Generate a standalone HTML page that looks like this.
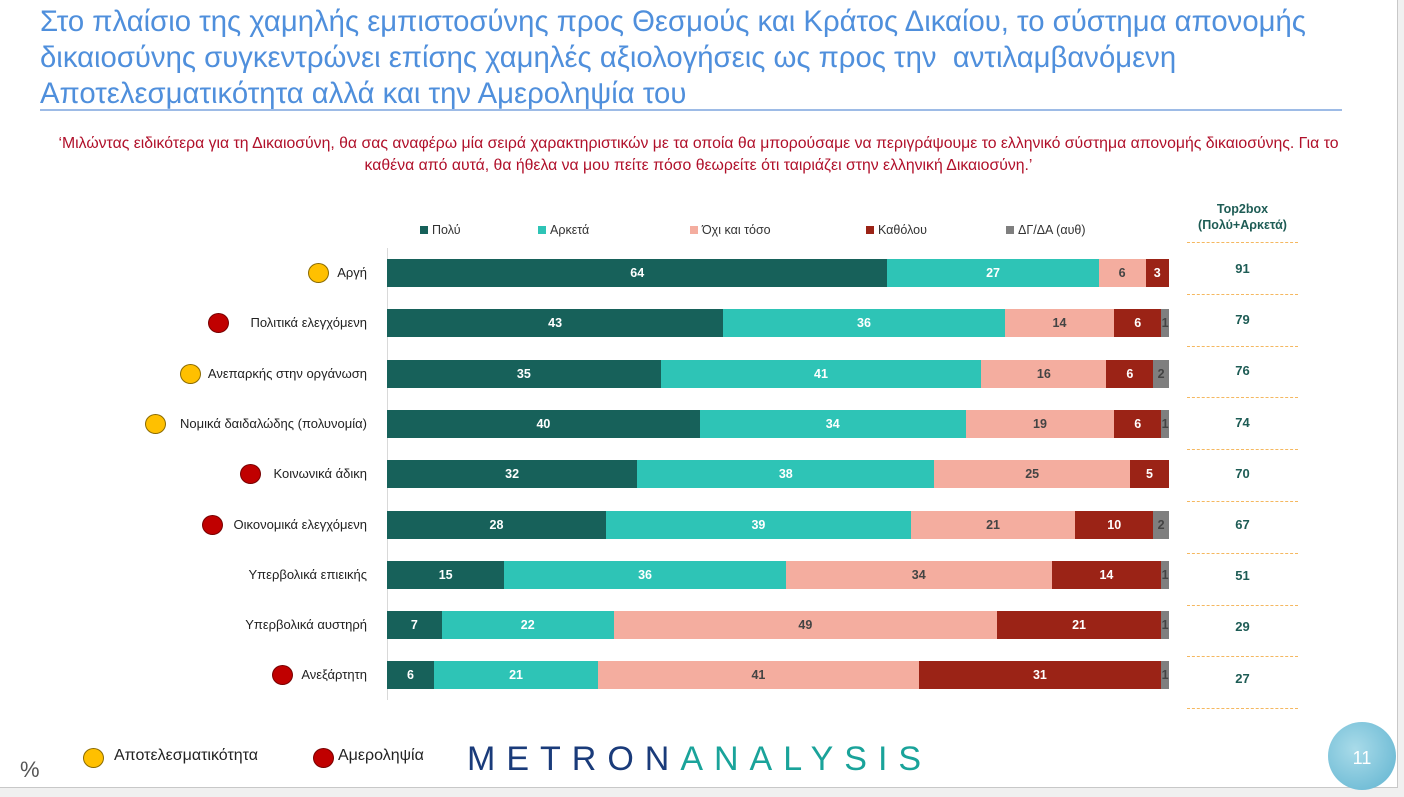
<!DOCTYPE html><html><head><meta charset="utf-8"><style>
body{margin:0;width:1404px;height:797px;background:#f0f0f0;font-family:"Liberation Sans",sans-serif;position:relative;overflow:hidden}
.slide{position:absolute;left:0;top:0;width:1397px;height:787px;background:#fff;border-right:1px solid #c8c8c8;border-bottom:1px solid #c8c8c8}
.t{position:absolute;left:40px;top:4px;font-size:29.3px;line-height:36px;color:#4f8fdc;width:1330px}
.ul{position:absolute;left:40px;top:109px;width:1302px;height:2px;background:#9dbbe6}
.sub{position:absolute;left:0;width:1397px;top:133px;text-align:center;font-size:15.8px;line-height:22px;color:#b0102a}
.a{position:absolute}
.bar{position:absolute;height:28px;display:flex}
.bar div{height:28px;font-size:12.5px;font-weight:bold;line-height:28px;text-align:center;overflow:visible;white-space:nowrap}
.lab{position:absolute;right:1030px;font-size:13px;color:#222;text-align:right}
.dot{position:absolute;width:19px;height:18px;border-radius:50%;border:1px solid #8a6a00}
.y{background:#ffc000}.r{background:#c00000;border-color:#700}
.tb{position:absolute;left:1187px;width:111px;text-align:center;font-size:13px;font-weight:bold;color:#1e5c55}
.dl{position:absolute;left:1187px;width:111px;border-top:1px dashed #f5b860}
.lg{position:absolute;top:223px;font-size:12.5px;color:#333}
.lg i{display:inline-block;width:8px;height:8px;margin-right:4px}
</style></head><body><div class="slide">
<div class="t">Στο πλαίσιο της χαμηλής εμπιστοσύνης προς Θεσμούς και Κράτος Δικαίου, το σύστημα απονομής δικαιοσύνης συγκεντρώνει επίσης χαμηλές αξιολογήσεις ως προς την&nbsp; αντιλαμβανόμενη Αποτελεσματικότητα αλλά και την Αμεροληψία του</div>
<div class="ul"></div>
<div class="sub">‘Μιλώντας ειδικότερα για τη Δικαιοσύνη, θα σας αναφέρω μία σειρά χαρακτηριστικών με τα οποία θα μπορούσαμε να περιγράψουμε το ελληνικό σύστημα απονομής δικαιοσύνης. Για το<br>καθένα από αυτά, θα ήθελα να μου πείτε πόσο θεωρείτε ότι ταιριάζει στην ελληνική Δικαιοσύνη.’</div>
<div class="lg" style="left:420px"><i style="background:#17615a"></i>Πολύ</div>
<div class="lg" style="left:538px"><i style="background:#2ec4b6"></i>Αρκετά</div>
<div class="lg" style="left:690px"><i style="background:#f4ad9f"></i>Όχι και τόσο</div>
<div class="lg" style="left:866px"><i style="background:#9b2316"></i>Καθόλου</div>
<div class="lg" style="left:1006px"><i style="background:#7f7f7f"></i>ΔΓ/ΔΑ (αυθ)</div>
<div class="tb" style="top:201px;line-height:16px;font-size:12.5px">Top2box<br>(Πολύ+Αρκετά)</div>
<div class="a" style="left:387px;top:248px;width:1px;height:452px;background:#d9d9d9"></div>
<div id="rows"></div>
<div class="a" style="left:20px;top:757px;font-size:22px;color:#555">%</div>
<div class="dot y" style="left:83px;top:748px"></div><div class="a" style="left:114px;top:747px;font-size:16px;color:#222">Αποτελεσματικότητα</div>
<div class="dot r" style="left:313px;top:748px"></div><div class="a" style="left:338px;top:747px;font-size:16px;color:#222">Αμεροληψία</div>
<div class="a" style="left:467px;top:740px;font-size:34px;letter-spacing:11px;color:#1a3b7a">METRON<span style="color:#1aa39a">ANALYSIS</span></div>
<div class="a" style="left:1328px;top:722px;width:68px;height:68px;border-radius:50%;background:radial-gradient(circle at 40% 40%,#a9dbe9,#5fb3d0);color:#fff;font-size:18px;text-align:center;line-height:72px">11</div>
</div>
<script>
var d=[["Αργή",[64,27,6,3,0],91,"y",308],["Πολιτικά ελεγχόμενη",[43,36,14,6,1],79,"r",208],["Ανεπαρκής στην οργάνωση",[35,41,16,6,2],76,"y",180],["Νομικά δαιδαλώδης (πολυνομία)",[40,34,19,6,1],74,"y",145],["Κοινωνικά άδικη",[32,38,25,5,0],70,"r",240],["Οικονομικά ελεγχόμενη",[28,39,21,10,2],67,"r",202],["Υπερβολικά επιεικής",[15,36,34,14,1],51,"",0],["Υπερβολικά αυστηρή",[7,22,49,21,1],29,"",0],["Ανεξάρτητη",[6,21,41,31,1],27,"r",272]];
var c=["#17615a","#2ec4b6","#f4ad9f","#9b2316","#7f7f7f"],tc=["#fff","#fff","#444","#fff","#444"],h="";
d.forEach(function(r,i){var top=259+i*50.3;h+='<div class="lab" style="top:'+(top+6)+'px;right:1030px">'+r[0]+'</div>';
if(r[3])h+='<div class="dot '+r[3]+'" style="left:'+r[4]+'px;top:'+(top+4)+'px"></div>';
h+='<div class="bar" style="left:387px;top:'+top+'px">';r[1].forEach(function(v,j){if(v)h+='<div style="width:'+(v*7.82)+'px;background:'+c[j]+';color:'+tc[j]+'">'+v+'</div>'});h+='</div>';
h+='<div class="tb" style="top:'+(top+2+i*0.9)+'px">'+r[2]+'</div><div class="dl" style="top:'+(242+i*51.8)+'px"></div>';});
h+='<div class="dl" style="top:708px"></div>';
document.getElementById('rows').innerHTML=h;
</script></body></html>
